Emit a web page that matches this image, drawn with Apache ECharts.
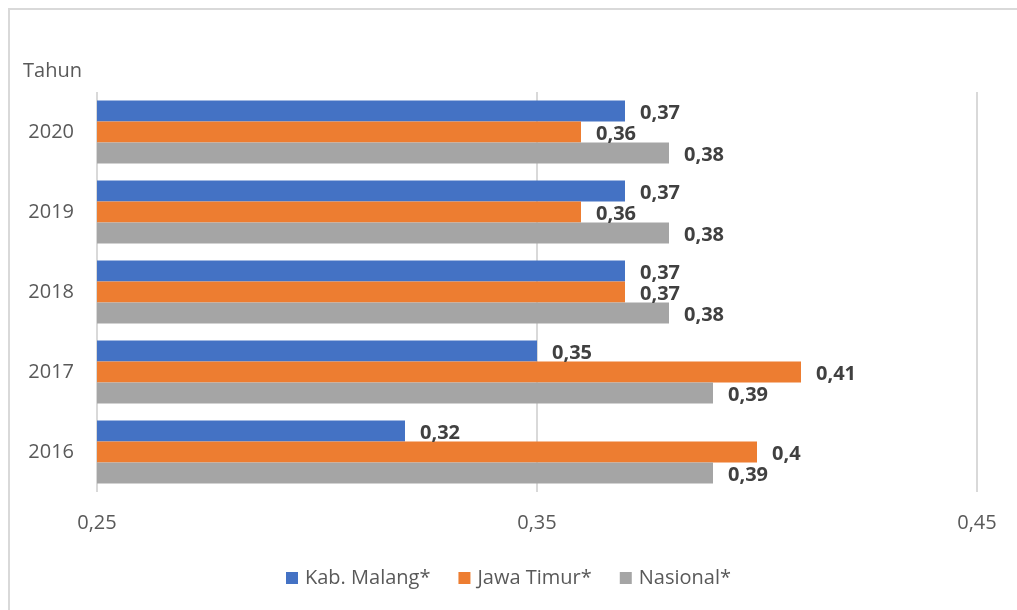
<!DOCTYPE html>
<html>
<head>
<meta charset="utf-8">
<script src="https://cdn.jsdelivr.net/npm/echarts@6/dist/echarts.min.js"></script>
<style>
  html,body{margin:0;padding:0;background:#fff;}
  .frame{position:absolute;left:8px;top:8px;width:1100px;height:700px;border-top:2px solid #d9d9d9;border-left:2px solid #d9d9d9;box-sizing:border-box;}
  #chart{position:absolute;left:0;top:0;width:1017px;height:610px;}
</style>
</head>
<body>
<div class="frame"></div>
<div id="chart"></div>
<script>
// tahun, dari atas ke bawah
const years = ['2020', '2019', '2018', '2017', '2016']
const kabMalang = [0.37, 0.37, 0.37, 0.35, 0.32]
const jawaTimur = [0.36, 0.36, 0.37, 0.41, 0.40]
const nasional = [0.38, 0.38, 0.38, 0.39, 0.39]
const seriesNames = ['Kab. Malang*', 'Jawa Timur*', 'Nasional*']
const colors = ['#4472C4', '#ED7D31', '#A5A5A5']

const chart = echarts.init(document.getElementById('chart'))
const font = '"Open Sans", "Noto Sans", sans-serif'
const comma = v => String(v).replace('.', ',')

const makeSeries = (name, data, color) => ({
  name: name,
  type: 'bar',
  data: data,
  barGap: 0,
  barCategoryGap: '21%',
  itemStyle: { color: color },
  label: {
    show: true,
    position: 'right',
    distance: 15,
    offset: [0, 2],
    color: '#404040',
    fontWeight: 'bold',
    fontSize: 20,
    fontFamily: font,
    formatter: p => comma(p.value)
  }
})

chart.setOption({
  animation: false,
  textStyle: { fontFamily: font },
  title: {
    text: 'Tahun',
    left: 18,
    top: 56,
    textStyle: { fontSize: 20, fontWeight: 'normal', color: '#595959', fontFamily: font }
  },
  legend: {
    bottom: 17,
    left: 'center',
    itemWidth: 12,
    itemHeight: 12,
    itemGap: 28,
    icon: 'rect',
    data: seriesNames,
    textStyle: { fontSize: 20, color: '#595959', fontFamily: font, padding: [0, 0, 0, 2] }
  },
  grid: { left: 97, right: 40, top: 92, bottom: 118 },
  xAxis: {
    type: 'value',
    min: 0.25,
    max: 0.45,
    interval: 0.1,
    axisLine: { show: false },
    axisTick: { show: false },
    splitLine: { lineStyle: { color: '#d9d9d9', width: 2 } },
    axisLabel: {
      margin: 21,
      fontSize: 20,
      color: '#595959',
      formatter: v => v.toFixed(2).replace('.', ',')
    }
  },
  yAxis: {
    type: 'category',
    data: years,
    inverse: true,
    axisLine: { show: false },
    axisTick: { show: false },
    axisLabel: { margin: 23, fontSize: 20, color: '#595959' }
  },
  series: [
    makeSeries(seriesNames[0], kabMalang, colors[0]),
    makeSeries(seriesNames[1], jawaTimur, colors[1]),
    makeSeries(seriesNames[2], nasional, colors[2])
  ]
})
</script>
</body>
</html>
